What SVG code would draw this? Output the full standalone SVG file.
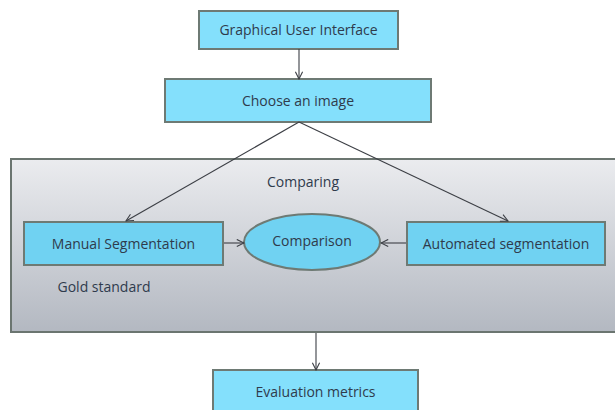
<svg xmlns="http://www.w3.org/2000/svg" width="615" height="410" viewBox="0 0 615 410">
  <style>
    .box { stroke: #6e7a74; stroke-width: 2; }
    .top { fill: #84e0fc; }
    .inner { fill: #70d2f2; }
    .lbl { font-family: "Open Sans", "Liberation Sans", Arial, sans-serif; font-size: 14px; fill: #2f3b4c; text-anchor: middle; }
    .conn { stroke: #3c3f45; stroke-width: 1.1; fill: none; marker-end: url(#arr); }
  </style>
  <defs>
    <linearGradient id="panel" x1="0" y1="0" x2="0" y2="1">
      <stop offset="0" stop-color="#ebecef"/>
      <stop offset="1" stop-color="#b3b8c1"/>
    </linearGradient>
    <marker id="arr" viewBox="0 0 10 10" refX="9" refY="5" markerWidth="9" markerHeight="9" markerUnits="userSpaceOnUse" orient="auto">
      <polyline points="1,1 9,5 1,9" fill="none" stroke="#3c3f45" stroke-width="1.2"/>
    </marker>
  </defs>

  <rect width="615" height="410" fill="#ffffff"/>

  <!-- comparison panel -->
  <g id="panel-comparing">
    <rect x="11" y="159" width="612" height="173" fill="url(#panel)" stroke="#6b7570" stroke-width="2"/>
    <text class="lbl" x="303" y="187">Comparing</text>
    <text class="lbl" x="104" y="292">Gold standard</text>
  </g>

  <g id="node-gui">
    <rect class="box top" x="199" y="11" width="199" height="38"/>
    <text class="lbl" x="298.5" y="35">Graphical User Interface</text>
  </g>

  <g id="node-choose">
    <rect class="box top" x="165" y="79" width="266" height="43"/>
    <text class="lbl" x="298" y="106">Choose an image</text>
  </g>

  <g id="node-manual">
    <rect class="box inner" x="24" y="222" width="199" height="43"/>
    <text class="lbl" x="123.5" y="249">Manual Segmentation</text>
  </g>

  <g id="node-comparison">
    <ellipse class="box inner" cx="312" cy="242" rx="68" ry="28"/>
    <text class="lbl" x="312" y="246">Comparison</text>
  </g>

  <g id="node-automated">
    <rect class="box inner" x="407" y="222" width="198" height="43"/>
    <text class="lbl" x="506" y="249">Automated segmentation</text>
  </g>

  <g id="node-evaluation">
    <rect class="box top" x="213" y="370" width="205" height="50"/>
    <text class="lbl" x="315.5" y="397">Evaluation metrics</text>
  </g>

  <g id="connectors">
    <line class="conn" x1="299" y1="49" x2="299" y2="79"/>
    <line class="conn" x1="299" y1="122" x2="126" y2="221"/>
    <line class="conn" x1="299" y1="122" x2="508" y2="221"/>
    <line class="conn" x1="224" y1="243" x2="244" y2="243"/>
    <line class="conn" x1="406" y1="243" x2="381" y2="243"/>
    <line class="conn" x1="316" y1="333" x2="316" y2="370"/>
  </g>
</svg>
